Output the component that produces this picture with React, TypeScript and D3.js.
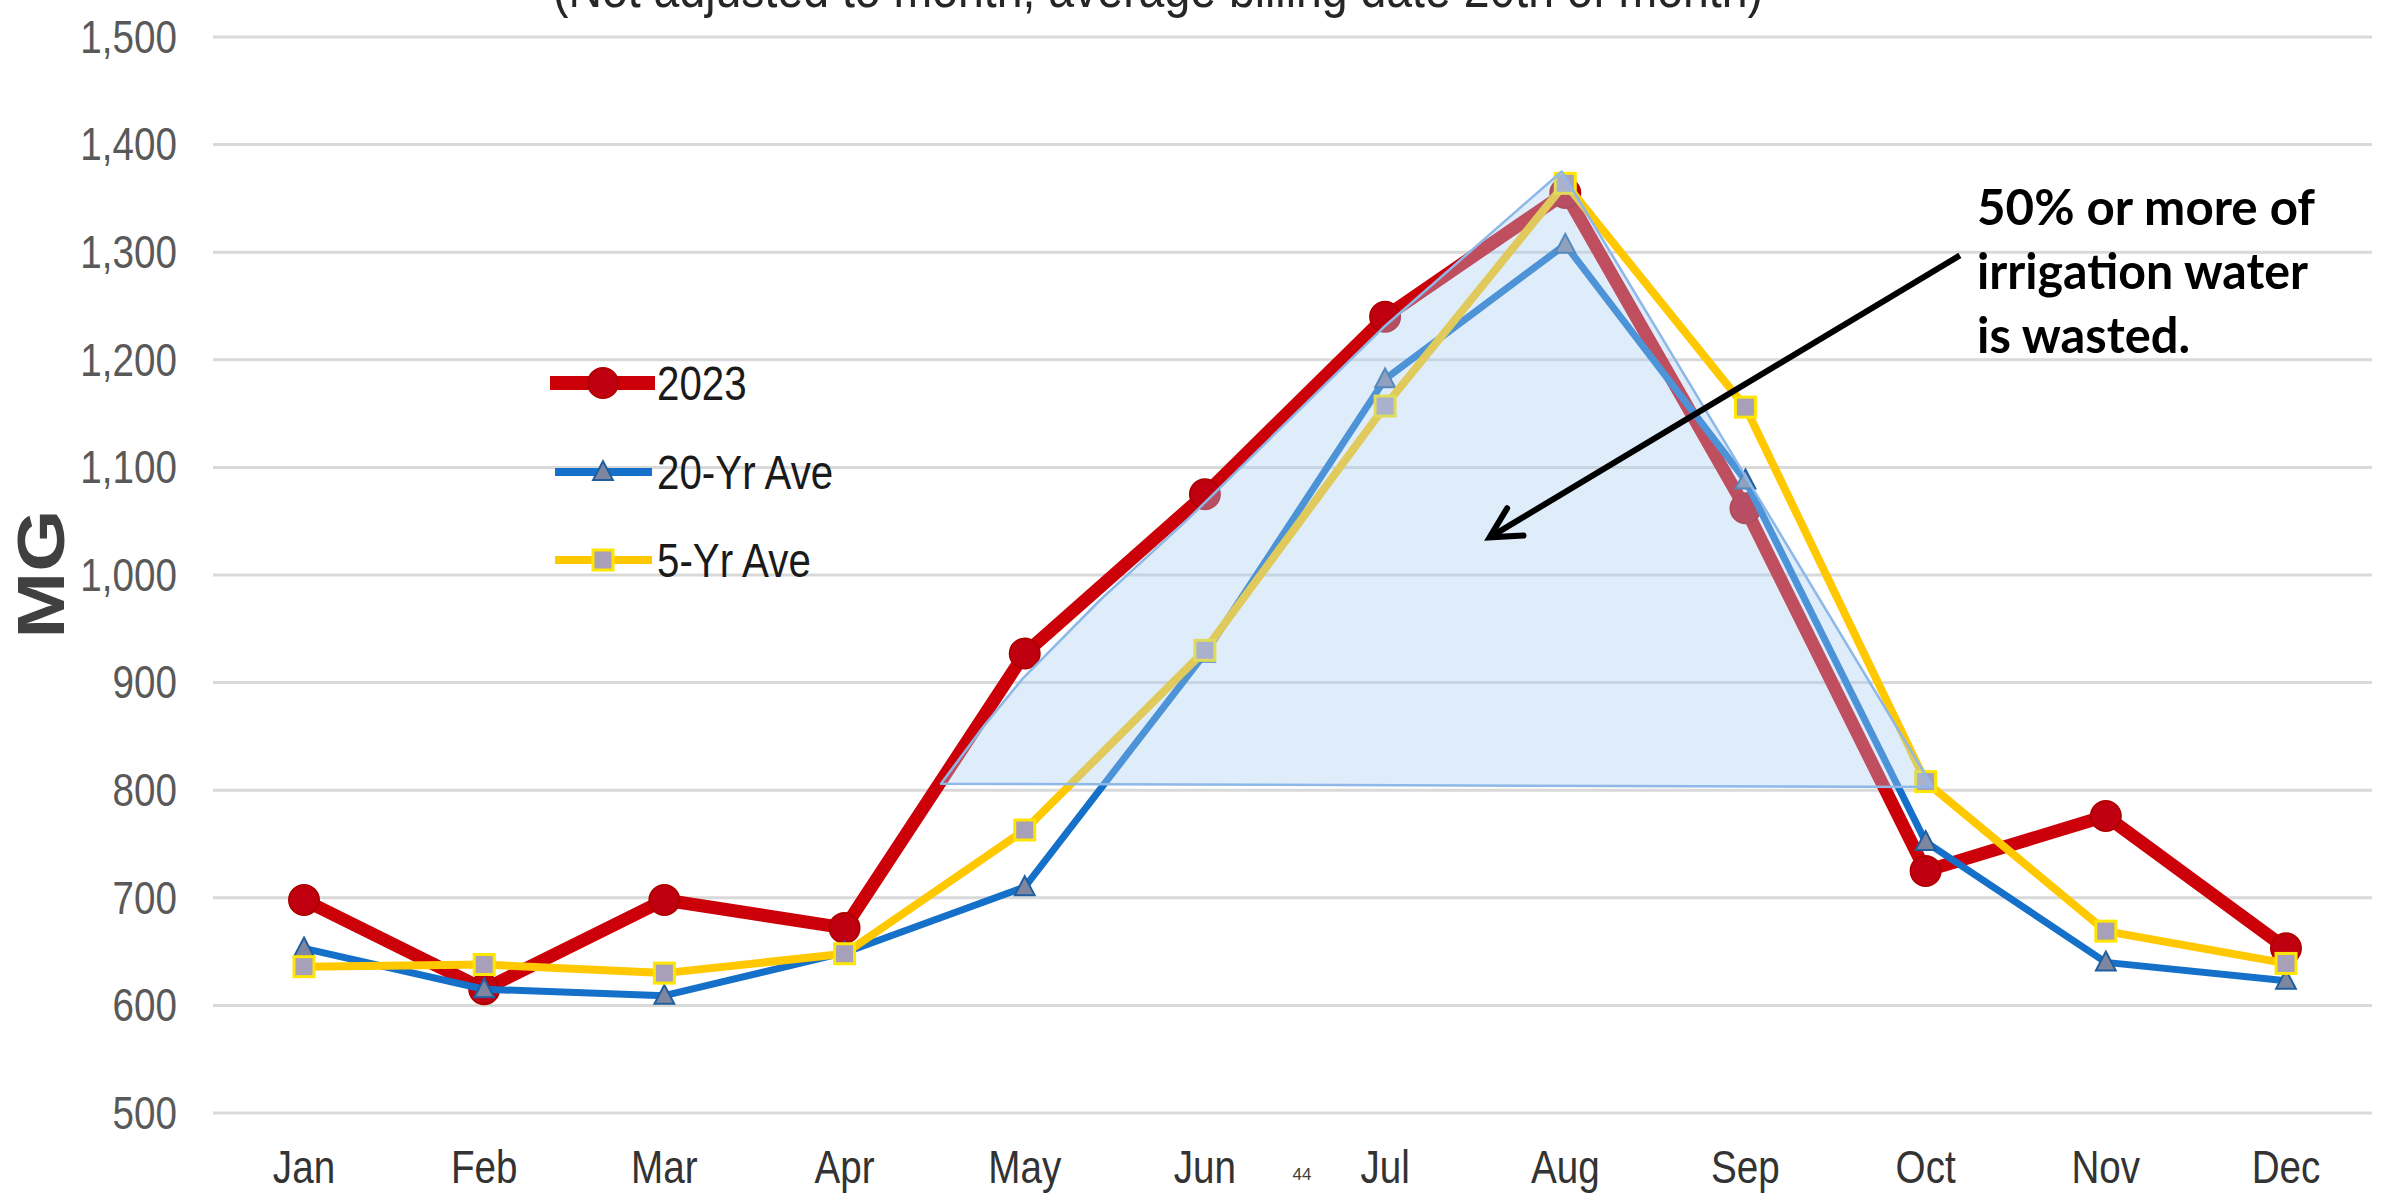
import React from "react";
import * as d3 from "d3";

const months = ["Jan", "Feb", "Mar", "Apr", "May", "Jun", "Jul", "Aug", "Sep", "Oct", "Nov", "Dec"];
const series2023 = [698, 615, 698, 672, 927, 1075, 1240, 1355, 1062, 725, 776, 653];
const ave20 = [653, 615, 609, 649, 710, 927, 1182, 1307, 1088, 752, 640, 623];
const ave5 = [636, 638, 630, 648, 763, 930, 1157, 1364, 1156, 808, 669, 639];
const yTicks = [500, 600, 700, 800, 900, 1000, 1100, 1200, 1300, 1400, 1500];
// annotation shape (month index, MG)
const wasteIdx = [3.535, 3.77, 3.99, 4.42, 4.9, 5.99, 6.98, 9.04];
const wasteVal = [806, 859, 904, 977, 1051, 1230, 1375, 803];
const arrowFrom = [9.19, 1297];
const arrowTo = [6.58, 1035];
const legendItems = ["2023", "20-Yr Ave", "5-Yr Ave"];
const noteLines = ["50% or more of", "irrigation water", "is wasted."];
const titleText = "(Not adjusted to month, average billing date 20th of month)";

const W = 2382;
const H = 1196;
const SX = 0.84;

const x = d3.scaleLinear().domain([0, 11]).range([304, 2286]);
const y = d3.scaleLinear().domain([500, 1500]).range([1113, 37]);

const RED = "#CC0008";
const BLUE = "#1470C8";
const YELLOW = "#FFC800";

function CText(props: any) {
  const { x: tx, y: ty, children, ...rest } = props;
  return (
    <text transform={`translate(${tx},${ty}) scale(${SX},1)`} {...rest}>
      {children}
    </text>
  );
}

function tri(cx: number, cy: number, s: number) {
  return `M${cx},${cy - s * 0.6} L${cx + s * 0.55},${cy + s * 0.45} L${cx - s * 0.55},${cy + s * 0.45} Z`;
}

export default function App() {
  const line = d3
    .line<number>()
    .x((_, i) => x(i))
    .y((d) => y(d));

  const wastePts = wasteIdx.map((v, i) => [x(v), y(wasteVal[i])] as [number, number]);
  const wastePath = d3.line()(wastePts) + "Z";

  const ax1 = x(arrowFrom[0]);
  const ay1 = y(arrowFrom[1]);
  const ax2 = x(arrowTo[0]);
  const ay2 = y(arrowTo[1]);
  const ang = Math.atan2(ay1 - ay2, ax1 - ax2);
  const hl = 34;
  const ha = (28 * Math.PI) / 180;
  const h1 = [ax2 + hl * Math.cos(ang + ha), ay2 + hl * Math.sin(ang + ha)];
  const h2 = [ax2 + hl * Math.cos(ang - ha), ay2 + hl * Math.sin(ang - ha)];

  const legendY = [383, 472, 560];

  return (
    <svg
      width={W}
      height={H}
      style={{ position: "absolute", left: 0, top: 0, background: "#fff" }}
      fontFamily="'Liberation Sans', Arial, sans-serif"
    >
      <rect width={W} height={H} fill="#fff" />
      {/* title (cut off at top, as in the source) */}
      <text
        x={553}
        y={7}
        fontSize={52}
        fill="#262626"
        textLength={1210}
        lengthAdjust="spacingAndGlyphs"
      >
        {titleText}
      </text>

      {/* gridlines */}
      {yTicks.map((t) => (
        <line key={t} x1={213} x2={2372} y1={y(t)} y2={y(t)} stroke="#D9D9D9" strokeWidth={3} />
      ))}

      {/* y tick labels */}
      {yTicks.map((t) => (
        <CText
          key={"l" + t}
          x={177}
          y={y(t)}
          fontSize={46}
          fill="#595959"
          textAnchor="end"
          dominantBaseline="central"
        >
          {d3.format(",")(t)}
        </CText>
      ))}

      {/* y axis title */}
      <text
        transform={`translate(64,574) scale(${SX},1) rotate(-90)`}
        fontSize={80}
        fontWeight="bold"
        fill="#404040"
        textAnchor="middle"
      >
        MG
      </text>

      {/* x labels */}
      {months.map((m, i) => (
        <CText key={m} x={x(i)} y={1183} fontSize={46} fill="#333" textAnchor="middle">
          {m}
        </CText>
      ))}
      <text x={1302} y={1180} fontSize={17} fill="#404040" textAnchor="middle">
        44
      </text>

      {/* 2023 */}
      <path d={line(series2023) || ""} fill="none" stroke={RED} strokeWidth={13} strokeLinejoin="round" />
      {series2023.map((v, i) => (
        <circle key={"r" + i} cx={x(i)} cy={y(v)} r={15} fill="#C00010" stroke="#B00000" strokeWidth={2} />
      ))}

      {/* 20-yr */}
      <path d={line(ave20) || ""} fill="none" stroke={BLUE} strokeWidth={7} strokeLinejoin="round" />
      {ave20.map((v, i) => (
        <path key={"b" + i} d={tri(x(i), y(v), 18)} fill="#7F86A0" stroke="#1F5FA0" strokeWidth={2} />
      ))}

      {/* 5-yr */}
      <path d={line(ave5) || ""} fill="none" stroke={YELLOW} strokeWidth={8} strokeLinejoin="round" />
      {ave5.map((v, i) => (
        <rect
          key={"y" + i}
          x={x(i) - 10}
          y={y(v) - 10}
          width={20}
          height={20}
          fill="#A8A0B8"
          stroke="#FFE600"
          strokeWidth={3}
        />
      ))}

      {/* waste shape */}
      <path d={wastePath} fill="rgb(170,205,240)" fillOpacity={0.38} stroke="#8DB8E8" strokeWidth={2.5} strokeLinejoin="round" />

      {/* legend */}
      <line x1={550} x2={655} y1={legendY[0]} y2={legendY[0]} stroke={RED} strokeWidth={14} />
      <circle cx={603} cy={legendY[0]} r={15} fill="#C00010" stroke="#B00000" strokeWidth={2} />
      <line x1={555} x2={652} y1={legendY[1]} y2={legendY[1]} stroke={BLUE} strokeWidth={8} />
      <path d={tri(603, legendY[1], 18)} fill="#7F86A0" stroke="#1F5FA0" strokeWidth={2} />
      <line x1={555} x2={652} y1={legendY[2]} y2={legendY[2]} stroke={YELLOW} strokeWidth={8} />
      <rect x={593} y={legendY[2] - 10} width={20} height={20} fill="#A8A0B8" stroke="#FFE600" strokeWidth={3} />
      {legendItems.map((t, i) => (
        <CText key={t} x={657} y={legendY[i]} fontSize={48} fill="#1a1a1a" dominantBaseline="central">
          {t}
        </CText>
      ))}

      {/* arrow */}
      <line x1={ax1} y1={ay1} x2={ax2} y2={ay2} stroke="#000" strokeWidth={6} />
      <polyline
        points={`${h1[0]},${h1[1]} ${ax2},${ay2} ${h2[0]},${h2[1]}`}
        fill="none"
        stroke="#000"
        strokeWidth={6}
        strokeLinecap="round"
        strokeLinejoin="miter"
      />

      {/* annotation */}
      {noteLines.map((t, i) => (
        <text
          key={t}
          x={1977}
          y={225 + i * 64}
          fontFamily="Lato, 'Open Sans', sans-serif"
          fontWeight="bold"
          fontSize={50}
          fill="#000"
          textLength={[338, 331, 213][i]}
          lengthAdjust="spacingAndGlyphs"
        >
          {t}
        </text>
      ))}
    </svg>
  );
}
